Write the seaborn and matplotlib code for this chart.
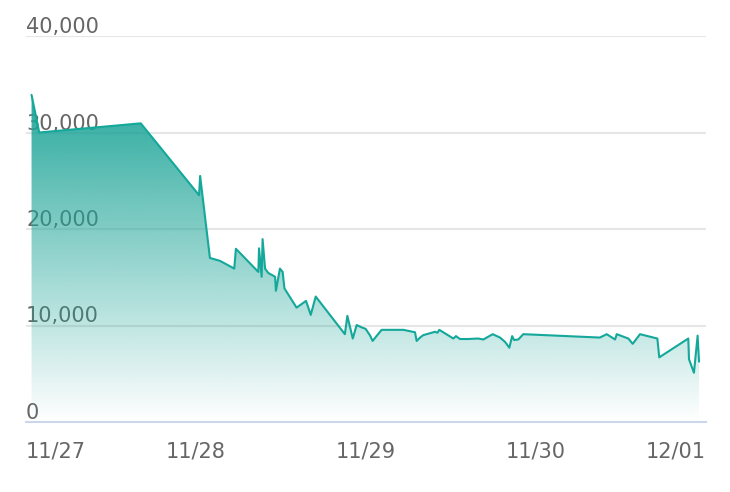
import matplotlib
matplotlib.use("Agg")
import matplotlib.pyplot as plt
import matplotlib.dates as mdates
import matplotlib.ticker as mticker
from matplotlib.transforms import ScaledTranslation
import numpy as np
import pandas as pd
import seaborn as sns

# data
times = [
    "2023-11-27 00:47", "2023-11-27 01:52", "2023-11-27 16:12", "2023-11-28 00:26",
    "2023-11-28 00:35", "2023-11-28 01:58", "2023-11-28 03:23", "2023-11-28 05:24",
    "2023-11-28 05:38", "2023-11-28 08:48", "2023-11-28 08:54", "2023-11-28 09:16",
    "2023-11-28 09:24", "2023-11-28 09:45", "2023-11-28 10:12", "2023-11-28 11:10",
    "2023-11-28 11:17", "2023-11-28 11:51", "2023-11-28 12:14", "2023-11-28 12:29",
    "2023-11-28 14:12", "2023-11-28 15:32", "2023-11-28 16:12", "2023-11-28 16:54",
    "2023-11-28 21:01", "2023-11-28 21:22", "2023-11-28 22:08", "2023-11-28 22:41",
    "2023-11-28 23:24", "2023-11-28 23:57", "2023-11-29 00:35", "2023-11-29 00:56",
    "2023-11-29 02:12", "2023-11-29 05:17", "2023-11-29 06:55", "2023-11-29 07:09",
    "2023-11-29 07:38", "2023-11-29 08:05", "2023-11-29 09:45", "2023-11-29 10:05",
    "2023-11-29 10:21", "2023-11-29 12:20", "2023-11-29 12:42", "2023-11-29 13:16",
    "2023-11-29 14:26", "2023-11-29 15:50", "2023-11-29 16:34", "2023-11-29 17:53",
    "2023-11-29 18:55", "2023-11-29 19:38", "2023-11-29 20:14", "2023-11-29 20:38",
    "2023-11-29 20:54", "2023-11-29 21:30", "2023-11-29 22:12", "2023-11-30 09:01",
    "2023-11-30 09:59", "2023-11-30 11:10", "2023-11-30 11:24", "2023-11-30 13:02",
    "2023-11-30 13:39", "2023-11-30 14:41", "2023-11-30 17:08", "2023-11-30 17:24",
    "2023-11-30 21:30", "2023-11-30 21:36", "2023-11-30 22:18", "2023-11-30 22:49",
    "2023-11-30 23:01",
]
values = [
    33900, 30000, 30950, 23500,
    25500, 17000, 16700, 15900,
    17950, 15550, 18000, 15050,
    18950, 15900, 15450, 15050,
    13600, 15900, 15550, 13850,
    11850, 12550, 11100, 13000,
    9100, 11000, 8650, 10050,
    9800, 9650, 8950, 8400,
    9550, 9550, 9300, 8400,
    8750, 9000, 9350, 9250,
    9550, 8650, 8900, 8600,
    8600, 8650, 8550, 9100,
    8750, 8300, 7700, 8900,
    8500, 8550, 9100, 8750,
    9100, 8550, 9100, 8650,
    8100, 9100, 8650, 6700,
    8650, 6500, 5100, 8950,
    6250,
]
x_ticks = ["2023-11-27", "2023-11-28", "2023-11-29", "2023-11-30", "2023-12-01"]
y_ticks = [0, 10000, 20000, 30000, 40000]

line_color = "#14a89b"
fill_color = "#1ea598"
text_color = "#666666"
axis_color = "#ccd6eb"
grid_color = "#e6e6e6"

df = pd.DataFrame({"time": pd.to_datetime(times), "value": values})
tick_dates = pd.to_datetime(x_ticks)

sns.set_style("white")
plt.rcParams["font.family"] = ["DejaVu Sans"]

fig = plt.figure(figsize=(7.3, 4.92), dpi=100)
ax = fig.add_axes([26 / 730, 1 - 422 / 492, 680 / 730, 386 / 492])

# grid lines behind everything
for v in y_ticks[1:]:
    ax.axhline(v, color=grid_color, linewidth=1.5, zorder=0.5)

# gradient fill clipped to the area under the line, from the series top down
poly = ax.fill_between(df["time"], df["value"], 0, facecolor="none", edgecolor="none")
clip = poly.get_paths()[0]
grad = np.zeros((256, 1, 4))
grad[:, 0, :3] = matplotlib.colors.to_rgb(fill_color)
grad[:, 0, 3] = np.linspace(0.95, 0.0, 256)
x0 = mdates.date2num(tick_dates[0])
x1 = mdates.date2num(tick_dates[-1])
im = ax.imshow(grad, aspect="auto", extent=[x0, x1, 0, max(values)],
               origin="upper", zorder=1)
im.set_clip_path(clip, transform=ax.transData)

sns.lineplot(data=df, x="time", y="value", ax=ax, color=line_color, linewidth=1.5, zorder=2)

ax.set_xlim(tick_dates[0], tick_dates[-1])
ax.set_ylim(0, 40000)
ax.set_xlabel("")
ax.set_ylabel("")

for side in ["top", "right", "left"]:
    ax.spines[side].set_visible(False)
ax.spines["bottom"].set_color(axis_color)
ax.spines["bottom"].set_linewidth(1.5)

ax.set_xticks(tick_dates)
ax.xaxis.set_major_formatter(mdates.DateFormatter("%m/%d"))
ax.tick_params(axis="x", length=12, width=1.1, color=axis_color, pad=2,
               labelsize=15, labelcolor=text_color)
xlabels = ax.get_xticklabels()
xlabels[0].set_ha("left")
xlabels[-1].set_ha("right")

ax.set_yticks(y_ticks)
ax.yaxis.set_major_formatter(mticker.StrMethodFormatter("{x:,.0f}"))
ax.tick_params(axis="y", length=0, pad=0, labelsize=15, labelcolor=text_color)
offset = ScaledTranslation(0, 3 / 100, fig.dpi_scale_trans)
for lab in ax.get_yticklabels():
    lab.set_ha("left")
    lab.set_va("baseline")
    lab.set_transform(lab.get_transform() + offset)

fig.savefig("out.png", dpi=100)
